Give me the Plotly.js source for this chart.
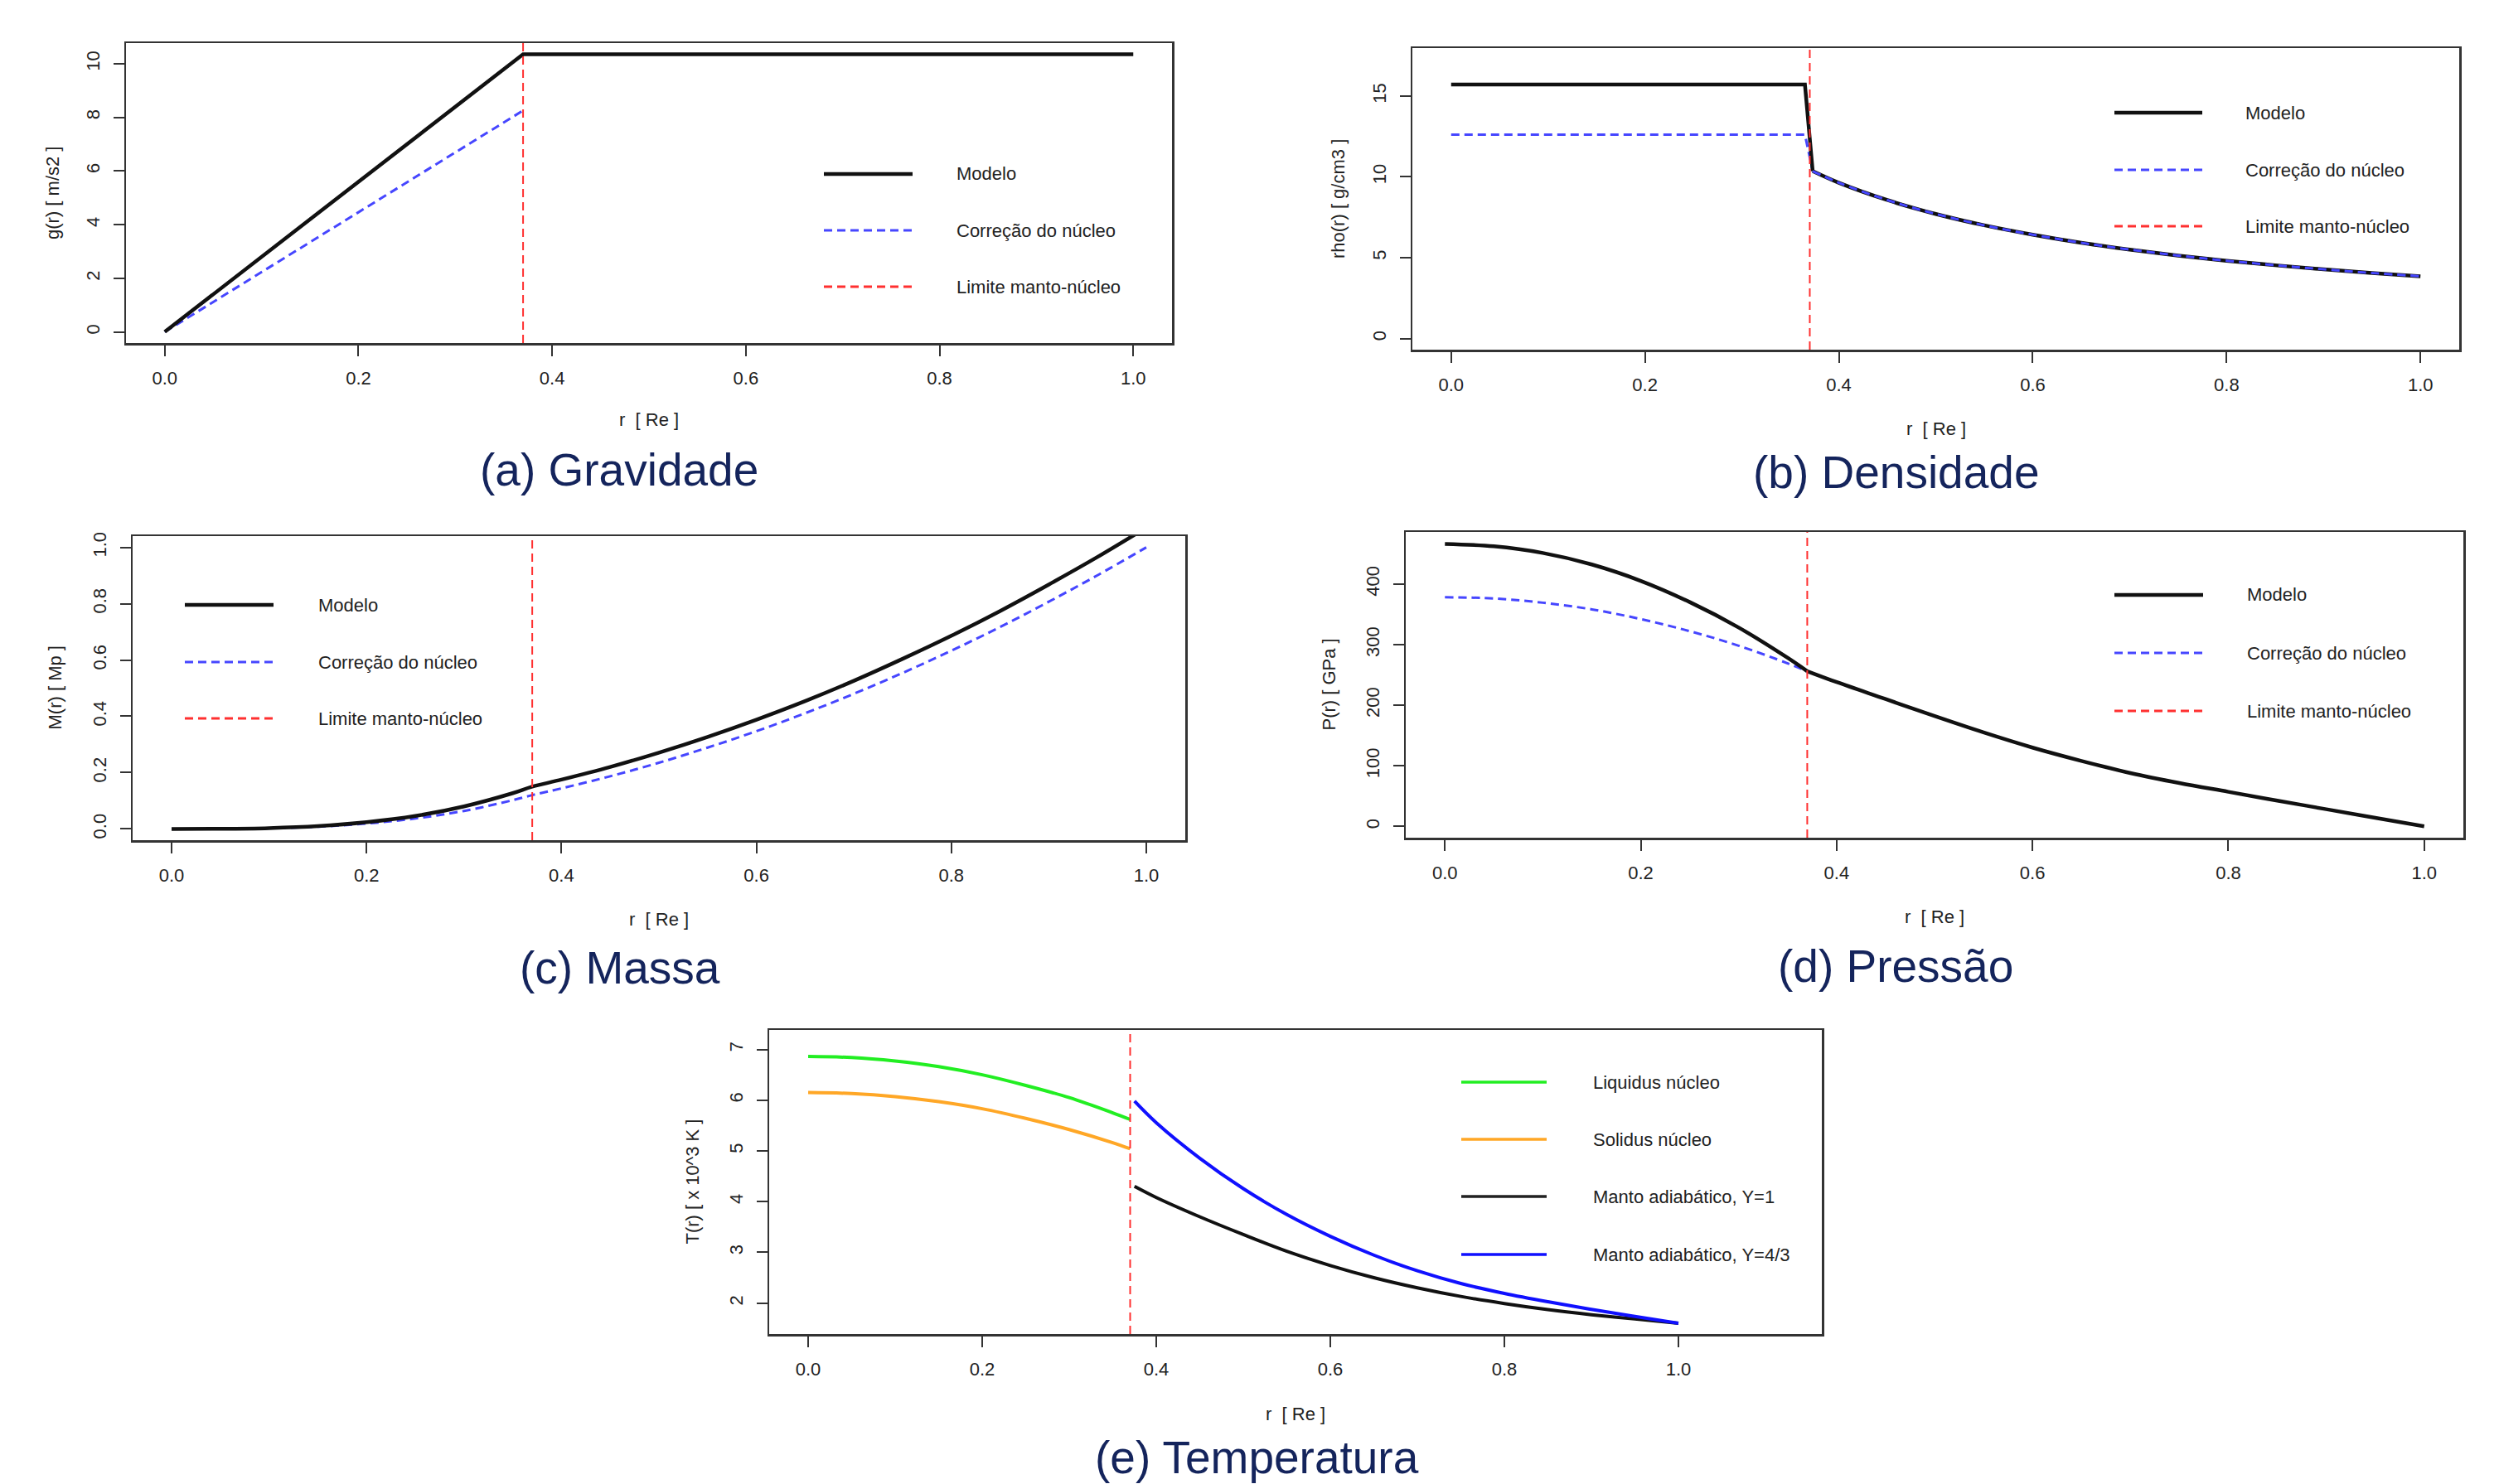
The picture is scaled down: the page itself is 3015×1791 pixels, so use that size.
<!DOCTYPE html>
<html>
<head>
<meta charset="utf-8">
<script src="https://cdn.plot.ly/plotly-3.0.1.min.js"></script>
<style>html,body{margin:0;padding:0;background:#fff;}#chart{width:3015px;height:1791px;}</style>
</head>
<body>
<div id="chart"></div>
<script>
// ---------------- DATA ----------------
// (a) Gravidade
const gravR_model = [0, 0.37, 1.0];
const gravModelo  = [0, 10.35, 10.35];
const gravR_corr  = [0, 0.37];
const gravCorr    = [0, 8.25];

// (b) Densidade
const densR      = [0, 0.365, 0.373, 0.4, 0.45, 0.5, 0.55, 0.6, 0.65, 0.7, 0.75, 0.8, 0.85, 0.9, 0.95, 1.0];
const densModelo = [15.7, 15.7, 10.35, 9.63, 8.56, 7.70, 7.00, 6.42, 5.92, 5.50, 5.13, 4.81, 4.53, 4.28, 4.05, 3.85];
const densCorr   = [12.6, 12.6, 10.35, 9.63, 8.56, 7.70, 7.00, 6.42, 5.92, 5.50, 5.13, 4.81, 4.53, 4.28, 4.05, 3.85];

// (c) Massa
const massR      = [0, 0.05, 0.1, 0.15, 0.2, 0.25, 0.3, 0.35, 0.37, 0.4, 0.45, 0.5, 0.55, 0.6, 0.65, 0.7, 0.75, 0.8, 0.85, 0.9, 0.95, 1.0];
const massModelo = [0, 0.0004, 0.003, 0.010, 0.024, 0.046, 0.080, 0.127, 0.150, 0.175, 0.220, 0.271, 0.327, 0.388, 0.454, 0.526, 0.604, 0.686, 0.774, 0.868, 0.966, 1.07];
const massCorr   = [0, 0.0003, 0.0024, 0.008, 0.019, 0.037, 0.064, 0.102, 0.120, 0.144, 0.187, 0.235, 0.289, 0.347, 0.411, 0.480, 0.554, 0.633, 0.717, 0.807, 0.901, 1.0];

// (d) Pressão
const presR_core   = [0, 0.05, 0.1, 0.15, 0.2, 0.25, 0.3, 0.35, 0.37];
const presR_mantle = [0.37, 0.4, 0.45, 0.5, 0.55, 0.6, 0.65, 0.7, 0.75, 0.8, 0.85, 0.9, 0.95, 1.0];
const presModeloCore = [466, 462, 451, 432, 405, 370, 328, 278, 256];
const presCorrCore   = [378, 376, 369, 358, 342, 322, 298, 269, 256];
const presMantle     = [256, 238, 210, 182, 155, 130, 108, 88, 71.5, 57, 42.5, 28.3, 14, 0];

// (e) Temperatura (x 10^3 K)
const tempR_core   = [0, 0.05, 0.1, 0.15, 0.2, 0.25, 0.3, 0.35, 0.37];
const tempR_mantle = [0.375, 0.4, 0.45, 0.5, 0.55, 0.6, 0.65, 0.7, 0.75, 0.8, 0.85, 0.9, 0.95, 1.0];
const liquidus = [6.86, 6.84, 6.77, 6.66, 6.50, 6.29, 6.05, 5.75, 5.62];
const solidus  = [6.15, 6.13, 6.07, 5.97, 5.83, 5.64, 5.42, 5.16, 5.04];
const mantoY1  = [4.30, 4.08, 3.70, 3.35, 3.02, 2.74, 2.50, 2.30, 2.13, 1.99, 1.87, 1.77, 1.685, 1.60];
const mantoY43 = [5.98, 5.555, 4.855, 4.255, 3.745, 3.315, 2.945, 2.635, 2.385, 2.19, 2.025, 1.875, 1.735, 1.60];

const coreBoundary = 0.37;

const xTicks = [0, 0.2, 0.4, 0.6, 0.8, 1.0];
const xTickText = ['0.0', '0.2', '0.4', '0.6', '0.8', '1.0'];
const yTicksA = [0, 2, 4, 6, 8, 10];
const yTicksB = [0, 5, 10, 15];
const yTicksC = [0, 0.2, 0.4, 0.6, 0.8, 1.0];
const yTickTextC = ['0.0', '0.2', '0.4', '0.6', '0.8', '1.0'];
const yTicksD = [0, 100, 200, 300, 400];
const yTicksE = [2, 3, 4, 5, 6, 7];

const legendModel = ['Modelo', 'Correção do núcleo', 'Limite manto-núcleo'];
const legendTemp  = ['Liquidus núcleo', 'Solidus núcleo', 'Manto adiabático, Y=1', 'Manto adiabático, Y=4/3'];
const captions = ['(a) Gravidade', '(b) Densidade', '(c) Massa', '(d) Pressão', '(e) Temperatura'];
const yTitles = ['g(r) [ m/s2 ]', 'rho(r) [ g/cm3 ]', 'M(r) [ Mp ]', 'P(r) [ GPa ]', 'T(r) [ x 10^3 K ]'];
const xTitle = 'r\u00a0 [ Re ]';

// ---------------- LAYOUT GEOMETRY ----------------
const W = 3015, H = 1791;
const FONT = 'Liberation Sans, Arial, Helvetica, sans-serif';
const INK = '#222222';
const BLACK = '#111111', BLUE_D = '#4646ff', RED_D = '#ff3030';
const GREEN = '#22ee22', ORANGE = '#ffa726', BLUE = '#1010ff';
const DASH = '10px,6px';

const boxes = [
  {l:152,  r:1414, t:52,   b:414,  xr:[-0.04,1.04],   yr:[-0.414,10.764], yt:yTicksA, ytt:yTicksA.map(String), ytx:63,   xty:506,  cap:[747,567]},
  {l:1704, r:2967, t:58,   b:422,  xr:[-0.04,1.04],   yr:[-0.69,17.96],   yt:yTicksB, ytt:yTicksB.map(String), ytx:1615, xty:517,  cap:[2287,570]},
  {l:160,  r:1430, t:647,  b:1014, xr:[-0.04,1.04],   yr:[-0.04,1.04],    yt:yTicksC, ytt:yTickTextC,          ytx:66,   xty:1109, cap:[748,1168]},
  {l:1696, r:2972, t:642,  b:1011, xr:[-0.04,1.04],   yr:[-18.7,485.7],   yt:yTicksD, ytt:yTicksD.map(String), ytx:1603, xty:1106, cap:[2287,1166]},
  {l:928,  r:2198, t:1243, b:1610, xr:[-0.0448,1.1648], yr:[1.389,7.384], yt:yTicksE, ytt:yTicksE.map(String), ytx:835,  xty:1706, cap:[1517,1759]}
];

const px = v => v / W;
const py = v => 1 - v / H;

const layout = {
  width: W, height: H,
  margin: {l:0, r:0, t:0, b:0, pad:0},
  paper_bgcolor: '#ffffff', plot_bgcolor: '#ffffff',
  showlegend: false,
  font: {family: FONT, size: 22, color: INK},
  shapes: [], annotations: []
};

boxes.forEach((bx, i) => {
  const n = i === 0 ? '' : String(i + 1);
  const common = {
    showline: true, mirror: true, linecolor: '#333333', linewidth: 2.5,
    ticks: 'outside', ticklen: 13, tickwidth: 2, tickcolor: '#333333',
    showgrid: false, zeroline: false, fixedrange: true,
    tickfont: {family: FONT, size: 22, color: INK}
  };
  layout['xaxis' + n] = Object.assign({}, common, {
    domain: [px(bx.l), px(bx.r)], range: bx.xr, anchor: 'y' + n,
    tickmode: 'array', tickvals: xTicks, ticktext: xTickText, ticklabelstandoff: 8
  });
  layout['yaxis' + n] = Object.assign({}, common, {
    domain: [py(bx.b), py(bx.t)], range: bx.yr, anchor: 'x' + n,
    tickmode: 'array', tickvals: bx.yt, ticktext: bx.ytt, tickangle: -90, ticklabelstandoff: 8
  });
  // core-mantle boundary
  layout.shapes.push({type:'line', xref:'x' + n, yref:'y' + n + ' domain', x0:coreBoundary, x1:coreBoundary, y0:0, y1:1,
    line:{color:RED_D, width:2, dash:DASH}});
  // axis titles
  layout.annotations.push({xref:'paper', yref:'paper', x:px((bx.l + bx.r) / 2), y:py(bx.xty), text:xTitle,
    showarrow:false, xanchor:'center', yanchor:'middle', font:{family:FONT, size:22, color:INK}});
  layout.annotations.push({xref:'paper', yref:'paper', x:px(bx.ytx), y:py((bx.t + bx.b) / 2), text:yTitles[i],
    showarrow:false, xanchor:'center', yanchor:'middle', textangle:-90, font:{family:FONT, size:22, color:INK}});
  // caption
  layout.annotations.push({xref:'paper', yref:'paper', x:px(bx.cap[0]), y:py(bx.cap[1]), text:captions[i],
    showarrow:false, xanchor:'center', yanchor:'middle', font:{family:FONT, size:55, color:'#14245c'}});
});

// legends (drawn as samples + labels)
function addLegend(x0, x1, xt, ys, labels, styles) {
  labels.forEach((lab, k) => {
    layout.shapes.push({type:'line', xref:'paper', yref:'paper', x0:px(x0), x1:px(x1), y0:py(ys[k]), y1:py(ys[k]),
      line:styles[k]});
    layout.annotations.push({xref:'paper', yref:'paper', x:px(xt), y:py(ys[k]), text:lab, showarrow:false,
      xanchor:'left', yanchor:'middle', font:{family:FONT, size:22, color:INK}});
  });
}
const modelStyles = [
  {color:BLACK, width:4.5},
  {color:BLUE_D, width:3, dash:DASH},
  {color:RED_D, width:3, dash:DASH}
];
addLegend(994, 1101, 1152, [210, 278, 346], legendModel, modelStyles);
addLegend(2551, 2657, 2707, [136, 205, 273], legendModel, modelStyles);
addLegend(223, 330, 382, [730, 799, 867], legendModel, modelStyles);
addLegend(2551, 2658, 2709, [718, 788, 858], legendModel, modelStyles);
addLegend(1763, 1866, 1920, [1306, 1375, 1444, 1514], legendTemp, [
  {color:GREEN, width:3.5}, {color:ORANGE, width:3.5}, {color:'#222222', width:3.5}, {color:BLUE, width:3.5}
]);

// ---------------- TRACES ----------------
function tr(x, y, k, color, width, dash, smooth) {
  const n = k === 0 ? '' : String(k + 1);
  const line = {color:color, width:width, dash:dash || 'solid'};
  if (smooth) { line.shape = 'spline'; line.smoothing = 1; }
  return {type:'scatter', mode:'lines', x:x, y:y, xaxis:'x' + n, yaxis:'y' + n, line:line, hoverinfo:'skip'};
}
const data = [
  tr(gravR_corr, gravCorr, 0, BLUE_D, 3, DASH),
  tr(gravR_model, gravModelo, 0, BLACK, 4.5),
  // density: flat core + drop (straight), then smooth mantle curve
  tr(densR.slice(0, 3), densCorr.slice(0, 3), 1, BLUE_D, 3, DASH),
  tr(densR.slice(0, 3), densModelo.slice(0, 3), 1, BLACK, 4.5),
  tr(densR.slice(2), densModelo.slice(2), 1, BLACK, 4.5, null, true),
  tr(densR.slice(2), densCorr.slice(2), 1, BLUE_D, 3, DASH, true),
  tr(massR, massCorr, 2, BLUE_D, 3, DASH, true),
  tr(massR, massModelo, 2, BLACK, 4.5, null, true),
  tr(presR_core, presCorrCore, 3, BLUE_D, 3, DASH, true),
  tr(presR_core, presModeloCore, 3, BLACK, 4.5, null, true),
  tr(presR_mantle, presMantle, 3, BLACK, 4.5, null, true),
  tr(tempR_core, liquidus, 4, GREEN, 4, null, true),
  tr(tempR_core, solidus, 4, ORANGE, 4, null, true),
  tr(tempR_mantle, mantoY1, 4, '#111111', 4, null, true),
  tr(tempR_mantle, mantoY43, 4, BLUE, 4, null, true)
];

Plotly.newPlot('chart', data, layout, {staticPlot:true, displayModeBar:false});
</script>
</body>
</html>
